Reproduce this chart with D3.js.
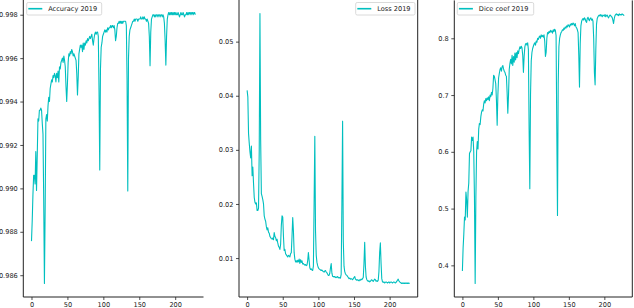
<!DOCTYPE html>
<html><head><meta charset="utf-8">
<script src="https://cdn.jsdelivr.net/npm/d3@7"></script>
<style>
body{margin:0;background:#fff;}
svg{display:block;}
text{font-family:"DejaVu Sans",sans-serif;fill:#222;}
</style>
</head><body>
<svg id="chart" width="634" height="308"></svg>
<script>
const accuracy = [
0.98757,0.9885,0.9897,0.9906,0.9906,0.9902,0.9917,0.9899,0.9915,0.9932,
0.9931,0.9936,0.9936,0.9937,0.9936,0.9930,0.9925,0.9895,0.98562,0.9890,
0.9932,0.9934,0.9931,0.9938,0.9942,0.9940,0.9946,0.9948,0.9950,0.9949,
0.9952,0.9951,0.9953,0.9952,0.9949,0.9953,0.9951,0.9954,0.9949,0.9956,
0.9955,0.9958,0.9959,0.9960,0.9958,0.9961,0.9959,0.9956,0.9947,0.9940,
0.9948,0.9958,0.9962,0.9961,0.9963,0.9962,0.9964,0.9963,0.9961,0.9962,
0.9961,0.9960,0.9959,0.9953,0.9943,0.9951,0.9962,0.9964,0.9966,0.9965,
0.9966,0.9963,0.9967,0.9964,0.9967,0.9966,0.9968,0.9967,0.9969,0.9968,
0.9969,0.9970,0.9969,0.9970,0.9971,0.9968,0.9966,0.9969,0.9971,0.9972,
0.9971,0.9972,0.9972,0.9970,0.9945,0.99085,0.9955,0.9965,0.9967,0.9970,
0.9971,0.9972,0.9973,0.9972,0.9973,0.9972,0.9974,0.9973,0.9974,0.9974,
0.9975,0.9974,0.9975,0.9975,0.9974,0.9975,0.9973,0.9968,0.9970,0.9974,
0.9976,0.9976,0.9977,0.9976,0.9977,0.9976,0.9977,0.9976,0.9977,0.9977,
0.9977,0.9977,0.9975,0.9950,0.98988,0.9960,0.9970,0.9973,0.9974,0.9975,
0.9976,0.9977,0.9977,0.9978,0.9977,0.9978,0.9978,0.9978,0.9977,0.9978,
0.9978,0.9978,0.9979,0.9978,0.9978,0.9979,0.9978,0.9979,0.9978,0.9978,
0.9977,0.9978,0.9977,0.9976,0.9970,0.99565,0.9972,0.9978,0.9979,0.9980,
0.9980,0.9979,0.9980,0.9979,0.9980,0.9980,0.9979,0.9980,0.9980,0.9979,
0.9980,0.9980,0.9979,0.9980,0.9979,0.9976,0.9968,0.99568,0.9970,0.9978,
0.9980,0.9981,0.9980,0.9981,0.9980,0.9981,0.9980,0.9981,0.9980,0.9981,
0.9980,0.9981,0.9980,0.9980,0.9981,0.9980,0.9979,0.9980,0.9981,0.9980,
0.9980,0.9981,0.9980,0.9979,0.9980,0.9980,0.9981,0.9980,0.9981,0.9980,
0.9981,0.9981,0.9980,0.9981,0.9981,0.9980,0.9981,0.9981,0.9980
];
const loss = [
0.0410,0.0398,0.0330,0.0312,0.0296,0.0285,0.0307,0.0252,0.0268,0.0238,
0.0212,0.0203,0.0200,0.0202,0.0188,0.0188,0.0192,0.0300,0.0552,0.0318,
0.0219,0.0214,0.0208,0.0200,0.0178,0.0172,0.0168,0.0158,0.0152,0.0156,
0.0148,0.0146,0.0140,0.0138,0.0136,0.0135,0.0137,0.0134,0.0147,0.0140,
0.0138,0.0132,0.0135,0.0128,0.0122,0.0120,0.0116,0.0125,0.0160,0.0178,
0.0176,0.0140,0.0114,0.0116,0.0108,0.0106,0.0104,0.0102,0.0105,0.0104,
0.0102,0.0108,0.0110,0.0140,0.0175,0.0150,0.0110,0.0098,0.0093,0.0095,
0.0092,0.0096,0.0093,0.0098,0.0090,0.0097,0.0092,0.0095,0.0089,0.0090,
0.0088,0.0087,0.0088,0.0086,0.0087,0.0095,0.0110,0.0096,0.0082,0.0079,
0.0080,0.0078,0.0077,0.0085,0.0200,0.0325,0.0150,0.0105,0.0092,0.0086,
0.0082,0.0080,0.0079,0.0078,0.0077,0.0078,0.0076,0.0075,0.0074,0.0076,
0.0077,0.0074,0.0073,0.0070,0.0068,0.0068,0.0072,0.0082,0.0090,0.0072,
0.0066,0.0066,0.0065,0.0066,0.0064,0.0065,0.0064,0.0066,0.0064,0.0063,
0.0064,0.0063,0.0070,0.0200,0.0353,0.0130,0.0085,0.0075,0.0071,0.0069,
0.0068,0.0066,0.0064,0.0062,0.0063,0.0061,0.0062,0.0061,0.0060,0.0062,
0.0064,0.0066,0.0061,0.0060,0.0059,0.0060,0.0059,0.0058,0.0060,0.0059,
0.0061,0.0060,0.0062,0.0064,0.0090,0.0129,0.0085,0.0065,0.0060,0.0058,
0.0057,0.0058,0.0056,0.0057,0.0059,0.0060,0.0058,0.0057,0.0059,0.0061,
0.0060,0.0057,0.0058,0.0057,0.0059,0.0075,0.0110,0.0128,0.0090,0.0062,
0.0056,0.0055,0.0056,0.0054,0.0055,0.0056,0.0055,0.0054,0.0055,0.0056,
0.0054,0.0055,0.0056,0.0055,0.0054,0.0055,0.0056,0.0055,0.0054,0.0055,
0.0057,0.0059,0.0061,0.0058,0.0056,0.0055,0.0054,0.0053,0.0054,0.0053,
0.0054,0.0053,0.0054,0.0053,0.0054,0.0053,0.0054,0.0053,0.0054
];
const dice = [
0.390,0.430,0.455,0.485,0.480,0.529,0.515,0.485,0.530,0.545,
0.597,0.600,0.602,0.626,0.620,0.626,0.600,0.520,0.368,0.520,
0.600,0.618,0.605,0.640,0.650,0.648,0.662,0.670,0.674,0.672,
0.684,0.690,0.686,0.694,0.690,0.695,0.692,0.697,0.690,0.700,
0.697,0.705,0.700,0.712,0.735,0.733,0.727,0.720,0.690,0.647,
0.700,0.730,0.738,0.745,0.748,0.742,0.750,0.752,0.746,0.742,
0.740,0.735,0.733,0.705,0.668,0.700,0.745,0.756,0.763,0.755,
0.770,0.752,0.768,0.758,0.774,0.762,0.775,0.766,0.778,0.773,
0.780,0.785,0.782,0.786,0.783,0.770,0.740,0.768,0.785,0.790,
0.791,0.788,0.792,0.780,0.640,0.535,0.700,0.760,0.775,0.782,
0.786,0.790,0.792,0.788,0.795,0.793,0.800,0.798,0.802,0.804,
0.800,0.806,0.803,0.805,0.802,0.806,0.795,0.768,0.775,0.800,
0.810,0.808,0.812,0.810,0.814,0.811,0.813,0.809,0.815,0.812,
0.816,0.814,0.805,0.640,0.488,0.720,0.785,0.800,0.806,0.810,
0.812,0.815,0.814,0.818,0.816,0.820,0.818,0.822,0.820,0.824,
0.822,0.820,0.825,0.823,0.826,0.824,0.827,0.825,0.822,0.826,
0.820,0.818,0.815,0.810,0.770,0.714,0.790,0.822,0.830,0.833,
0.835,0.832,0.836,0.834,0.830,0.828,0.835,0.837,0.833,0.831,
0.835,0.836,0.832,0.834,0.830,0.800,0.740,0.718,0.780,0.825,
0.835,0.838,0.840,0.841,0.839,0.842,0.840,0.838,0.841,0.840,
0.839,0.842,0.838,0.840,0.841,0.838,0.836,0.839,0.841,0.840,
0.838,0.837,0.832,0.826,0.835,0.840,0.842,0.843,0.841,0.842,
0.840,0.843,0.841,0.842,0.841,0.843,0.842,0.841,0.840
];
const epochs = accuracy.map((_, i) => i);
const xTickValues = [0, 50, 100, 150, 200];
const accTickValues = [0.986, 0.988, 0.990, 0.992, 0.994, 0.996, 0.998];
const lossTickValues = [0.01, 0.02, 0.03, 0.04, 0.05];
const diceTickValues = [0.4, 0.5, 0.6, 0.7, 0.8];
const legendLabels = ["Accuracy 2019", "Loss 2019", "Dice coef 2019"];

const color = "#00bfbf";
const svg = d3.select("#chart");

const panels = [
  {values: accuracy, ticks: accTickValues, fmt: d3.format(".3f"), label: legendLabels[0],
   left: 23.3, right: 203.5, top: -1, bottom: 297, rightSpine: false, legendX: 26.7, legendW: 75},
  {values: loss, ticks: lossTickValues, fmt: d3.format(".2f"), label: legendLabels[1],
   left: 239, right: 417.7, top: 0, bottom: 297, rightSpine: true, legendX: 355.7, legendW: 59.3},
  {values: dice, ticks: diceTickValues, fmt: d3.format(".1f"), label: legendLabels[2],
   left: 454.3, right: 632.3, top: 0.4, bottom: 297, rightSpine: true, legendX: 457.3, legendW: 76.4}
];

function padded(ext) {
  const m = (ext[1] - ext[0]) * 0.05;
  return [ext[0] - m, ext[1] + m];
}

panels.forEach(p => {
  const x = d3.scaleLinear().domain(padded(d3.extent(epochs))).range([p.left, p.right]);
  const y = d3.scaleLinear().domain(padded(d3.extent(p.values))).range([p.bottom, p.top]);
  const g = svg.append("g");

  g.append("path")
    .datum(p.values)
    .attr("fill", "none")
    .attr("stroke", color)
    .attr("stroke-width", 1.1)
    .attr("stroke-linejoin", "round")
    .attr("d", d3.line().x((d, i) => x(epochs[i])).y(d => y(d)));

  const xAxis = g.append("g")
    .attr("transform", `translate(0,${p.bottom})`)
    .call(d3.axisBottom(x).tickValues(xTickValues).tickSize(3).tickPadding(2.5).tickFormat(d3.format("d")));
  const yAxis = g.append("g")
    .attr("transform", `translate(${p.left},0)`)
    .call(d3.axisLeft(y).tickValues(p.ticks).tickSize(3).tickPadding(2.5).tickFormat(p.fmt));
  [xAxis, yAxis].forEach(a => {
    a.select(".domain").attr("stroke", "#222").attr("stroke-width", 1);
    a.selectAll(".tick line").attr("stroke", "#222").attr("stroke-width", 0.8);
    a.selectAll(".tick text").attr("font-size", 6.6).attr("font-family", "DejaVu Sans").attr("fill", "#222");
  });
  xAxis.select(".domain").attr("d", `M${p.left},0H${p.right}`);
  yAxis.select(".domain").attr("d", `M0,${p.bottom}V${p.top}`);

  if (p.rightSpine) {
    g.append("line")
      .attr("x1", p.right).attr("x2", p.right)
      .attr("y1", p.top).attr("y2", p.bottom)
      .attr("stroke", "#222").attr("stroke-width", 1);
  }

  const lg = g.append("g").attr("transform", `translate(${p.legendX},2.5)`);
  lg.append("rect")
    .attr("width", p.legendW).attr("height", 12.5)
    .attr("rx", 1.5)
    .attr("fill", "#fff").attr("fill-opacity", 0.8)
    .attr("stroke", "#d0d0d0").attr("stroke-width", 0.8);
  lg.append("line")
    .attr("x1", 1.6).attr("x2", 15.6)
    .attr("y1", 6.2).attr("y2", 6.2)
    .attr("stroke", color).attr("stroke-width", 1.6);
  lg.append("text")
    .attr("x", 21.5).attr("y", 8.6)
    .attr("font-size", 6.6)
    .text(p.label);
});
</script>
</body></html>
